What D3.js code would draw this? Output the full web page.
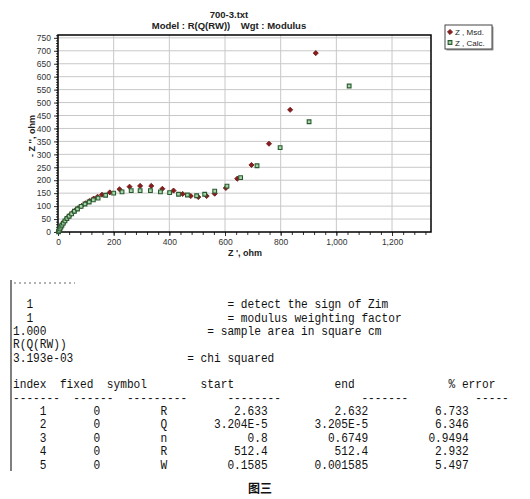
<!DOCTYPE html>
<html lang="en">
<head>
<meta charset="UTF-8">
<title>700-3.txt</title>
<script src="https://d3js.org/d3.v7.min.js"></script>
<style>
  body { margin: 0; background: #fff; }
  .mono { font-family: "Liberation Mono", monospace; font-size: 12px; fill: #111; }
</style>
</head>
<body>
<svg></svg>
<script>
// measured data: Z' (ohm), -Z'' (ohm)
const msdRe = [3, 5, 8, 11, 15, 20, 26, 33, 41, 50, 60, 72, 85, 99, 113, 128, 142, 158, 186, 221, 257, 295, 335, 375, 415, 448, 477, 504, 534, 563, 603, 644, 695, 758, 834, 926];
const msdIm = [2, 8, 14, 21, 28, 36, 45, 54, 63, 72, 82, 92, 101, 111, 120, 129, 136, 144, 153, 165, 175, 178, 178, 167, 160, 147, 139, 135, 139, 148, 170, 206, 259, 341, 472, 691];
// calculated data
const calcRe = [2, 4, 7, 10, 14, 19, 25, 32, 40, 49, 59, 70, 83, 97, 112, 127, 144, 171, 200, 230, 263, 295, 332, 368, 401, 433, 465, 498, 527, 563, 607, 656, 715, 798, 902, 1046];
const calcIm = [1, 6, 12, 19, 26, 34, 43, 52, 61, 70, 80, 89, 99, 108, 116, 124, 131, 142, 150, 155, 160, 160, 160, 155, 152, 146, 143, 140, 146, 158, 177, 210, 256, 326, 426, 564];

const xTicks = [0, 200, 400, 600, 800, 1000, 1200];
const yTicks = [0, 50, 100, 150, 200, 250, 300, 350, 400, 450, 500, 550, 600, 650, 700, 750];
const legendNames = ["Z , Msd.", "Z , Calc."];

// text block under the chart
const headerLines = [
  ["  1", "= detect the sign of Zim"],
  ["  1", "= modulus weighting factor"],
  ["1.000", "= sample area in square cm"],
  ["R(Q(RW))", ""],
  ["3.193e-03", "= chi squared"]
];
const tableHeads = ["index", "fixed", "symbol", "start", "end", "% error"];
const tableDashes = ["-------", "------", "---------", "--------", "-------", "-----"];
const paramIndex = ["1", "2", "3", "4", "5"];
const paramFixed = ["0", "0", "0", "0", "0"];
const paramSymbol = ["R", "Q", "n", "R", "W"];
const paramStart = ["2.633", "3.204E-5", "0.8", "512.4", "0.1585"];
const paramEnd = ["2.632", "3.205E-5", "0.6749", "512.4", "0.001585"];
const paramError = ["6.733", "6.346", "0.9494", "2.932", "5.497"];

const W = 530, H = 499;
const svg = d3.select("svg").attr("width", W).attr("height", H)
  .style("font-family", "'Liberation Sans', Arial, sans-serif");

const pl = 58, pr = 431, pt = 35, pb = 232;
const x = d3.scaleLinear().domain([0, 1340]).range([pl, pr]);
const y = d3.scaleLinear().domain([0, 761]).range([pb, pt]);

// titles
svg.append("text").attr("x", 229).attr("y", 18).attr("text-anchor", "middle")
  .attr("font-size", 9.5).attr("font-weight", "bold").attr("fill", "#222").text("700-3.txt");
svg.append("text").attr("x", 229).attr("y", 29).attr("text-anchor", "middle")
  .attr("font-size", 9.5).attr("font-weight", "bold").attr("fill", "#222")
  .attr("xml:space", "preserve").text("Model : R(Q(RW))    Wgt : Modulus");

// grid
svg.append("g").selectAll("line").data(xTicks.filter(d => d > 0)).join("line")
  .attr("x1", d => x(d)).attr("x2", d => x(d)).attr("y1", pt).attr("y2", pb)
  .attr("stroke", "#c8c8c8");
svg.append("g").selectAll("line").data(yTicks.filter(d => d > 0)).join("line")
  .attr("x1", pl).attr("x2", pr).attr("y1", d => y(d)).attr("y2", d => y(d))
  .attr("stroke", "#c8c8c8");

// axes
const xAxis = svg.append("g").attr("transform", `translate(0,${pb})`)
  .call(d3.axisBottom(x).tickValues(d3.range(0, 1341, 40)).tickSize(3).tickFormat(""));
xAxis.append("g").call(d3.axisBottom(x).tickValues(xTicks).tickSize(4).tickFormat(d3.format(",")));
const yAxis = svg.append("g").attr("transform", `translate(${pl},0)`)
  .call(d3.axisLeft(y).tickValues(d3.range(0, 761, 10)).tickSize(2).tickFormat(""));
yAxis.append("g").call(d3.axisLeft(y).tickValues(yTicks).tickSize(4));
svg.selectAll(".domain").remove();
svg.selectAll(".tick text").attr("font-size", 8.5).attr("fill", "#333")
  .attr("font-family", "'Liberation Sans', Arial, sans-serif");
svg.selectAll(".tick line").attr("stroke", "#333");

// plot border
svg.append("rect").attr("x", pl).attr("y", pt)
  .attr("width", pr - pl).attr("height", pb - pt)
  .attr("fill", "none").attr("stroke", "#000").attr("stroke-width", 1.5);

// axis titles
svg.append("text").attr("x", 245).attr("y", 256).attr("text-anchor", "middle")
  .attr("font-size", 9).attr("font-weight", "bold").attr("fill", "#222").text("Z ', ohm");
svg.append("text").attr("transform", "translate(35,136) rotate(-90)").attr("text-anchor", "middle")
  .attr("font-size", 9).attr("font-weight", "bold").attr("fill", "#222").text("- Z '', ohm");

// points: small rotated square for measured, light square for calculated
const diamond = d3.symbol().type(d3.symbolSquare).size(13);
const square = d3.symbol().type(d3.symbolSquare).size(14);
svg.append("g").selectAll("path").data(d3.zip(msdRe, msdIm)).join("path")
  .attr("transform", d => `translate(${x(d[0])},${y(d[1])}) rotate(45)`)
  .attr("d", diamond).attr("fill", "#8b1c1c").attr("stroke", "#6a1414").attr("stroke-width", 0.8);
svg.append("g").selectAll("path").data(d3.zip(calcRe, calcIm)).join("path")
  .attr("transform", d => `translate(${x(d[0])},${y(d[1])})`)
  .attr("d", square).attr("fill", "#a6d6a6").attr("stroke", "#2a5a32").attr("stroke-width", 1.1);

// legend
const lg = svg.append("g").attr("transform", "translate(445,25)");
lg.append("rect").attr("x", 1.5).attr("y", 1.5).attr("width", 47).attr("height", 24).attr("fill", "#999");
lg.append("rect").attr("width", 47).attr("height", 24).attr("fill", "#fff").attr("stroke", "#444");
legendNames.forEach((name, i) => {
  lg.append("path").attr("transform", `translate(5,${7 + i * 10.5})` + (i === 0 ? " rotate(45)" : ""))
    .attr("d", i === 0 ? diamond : square)
    .attr("fill", i === 0 ? "#8b1c1c" : "#a6d6a6")
    .attr("stroke", i === 0 ? "#6a1414" : "#2a5a32")
    .attr("stroke-width", i === 0 ? 0.8 : 1.1);
  lg.append("text").attr("x", 10).attr("y", 10 + i * 10.5).attr("font-size", 8)
    .attr("fill", "#222").attr("xml:space", "preserve").text(name);
});

// text block (monospace columns)
const cw = 6.7, x0 = 13;
const colX = c => x0 + c * cw;
function mono(str, col, yy, anchorEnd) {
  if (!str) return;
  svg.append("text").attr("class", "mono")
    .attr("x", anchorEnd ? colX(col + 1) : colX(col)).attr("y", yy)
    .attr("text-anchor", anchorEnd ? "end" : "start")
    .attr("xml:space", "preserve")
    .attr("textLength", str.length * cw).attr("lengthAdjust", "spacingAndGlyphs")
    .text(str);
}

svg.append("line").attr("x1", 11).attr("x2", 11).attr("y1", 280).attr("y2", 471)
  .attr("stroke", "#555").attr("stroke-width", 1.5);
svg.append("line").attr("x1", 14).attr("x2", 75).attr("y1", 283).attr("y2", 283)
  .attr("stroke", "#666").attr("stroke-dasharray", "2,3");

const headerY = [308, 322, 335, 348, 362];
const eqCols = [32, 32, 29, 0, 26];
headerLines.forEach((l, i) => {
  mono(l[0], 0, headerY[i]);
  mono(l[1], eqCols[i], headerY[i]);
});

const headCols = [0, 7, 14, 28, 48, 65];
tableHeads.forEach((h, i) => mono(h, headCols[i], 387.5));
const dashCols = [0, 9, 17, 32, 52, 69];
tableDashes.forEach((d, i) => mono(d, dashCols[i], 401.5));

const rowY = [414.5, 428, 441.5, 455, 468.5];
paramIndex.forEach((v, i) => {
  mono(v, 4, rowY[i]);
  mono(paramFixed[i], 12, rowY[i]);
  mono(paramSymbol[i], 22, rowY[i]);
  mono(paramStart[i], 37, rowY[i], true);
  mono(paramEnd[i], 52, rowY[i], true);
  mono(paramError[i], 67, rowY[i], true);
});

svg.append("text").attr("x", 260).attr("y", 493).attr("text-anchor", "middle")
  .attr("font-family", "'Noto Sans CJK SC', sans-serif").attr("font-size", 12)
  .attr("font-weight", "bold").attr("fill", "#111").text("图三");
</script>
</body>
</html>
